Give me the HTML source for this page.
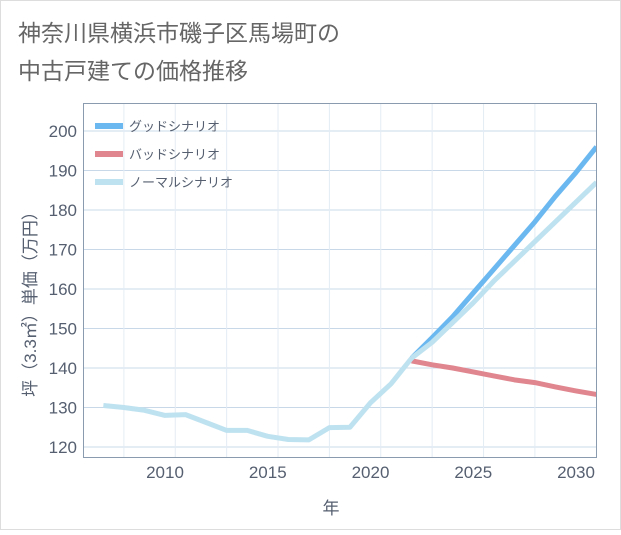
<!DOCTYPE html>
<html><head><meta charset="utf-8"><style>
body{margin:0;background:#fff;}
svg text{font-family:"Liberation Sans","Noto Sans CJK JP",sans-serif;}
</style></head><body>
<svg width="621" height="530" viewBox="0 0 621 530">
<rect x="0.5" y="0.5" width="620" height="529" fill="#fff" stroke="#ddd"/>
<text x="18" y="41" font-size="23" fill="#666">神奈川県横浜市磯子区馬場町の</text>
<text x="18" y="79" font-size="23" fill="#666">中古戸建ての価格推移</text>
<g id="grid"></g>
<rect x="83.5" y="103.5" width="513" height="354" fill="none" stroke="#8a9bb0"/>
<g id="axes"></g>
<g id="lines"></g>
<text transform="translate(36,300) rotate(-90)" text-anchor="middle" font-size="17" fill="#555f70">坪（3.3㎡）単価（万円）</text>
<text x="331" y="514" text-anchor="middle" font-size="17" fill="#555f70">年</text>
<g>
<line x1="95" y1="126" x2="123" y2="126" stroke="#6bb8f0" stroke-width="6"/>
<text x="129" y="131" font-size="13" fill="#555f70">グッドシナリオ</text>
<line x1="95" y1="154" x2="123" y2="154" stroke="#e0868e" stroke-width="6"/>
<text x="129" y="159" font-size="13" fill="#555f70">バッドシナリオ</text>
<line x1="95" y1="182" x2="123" y2="182" stroke="#bfe2f0" stroke-width="6"/>
<text x="129" y="187" font-size="13" fill="#555f70">ノーマルシナリオ</text>
</g>
</svg>
<script>
const histYears=[2007,2008,2009,2010,2011,2012,2013,2014,2015,2016,2017,2018,2019,2020,2021,2022];
const histValues=[130.5,130,129.3,128,128.2,126.2,124.2,124.2,122.7,121.9,121.8,124.9,125,131.2,136,142.5];
const futYears=[2022,2023,2024,2025,2026,2027,2028,2029,2030,2031];
const goodValues=[142.5,147.7,153,159,165,171,177,183.5,189.5,196];
const normalValues=[142.5,146.5,151.5,156.5,162,167,172,177,182,187];
const badValues=[141.8,140.8,140,139,138,137,136.3,135.2,134.2,133.3];
const yTicks=[120,130,140,150,160,170,180,190,200];
const xTicks=[2010,2015,2020,2025,2030];
const NS="http://www.w3.org/2000/svg";
const X=y=>165+(y-2010)*20.55;
const Y=v=>131+(200-v)*3.95;
function mk(tag,attrs,parent){const e=document.createElementNS(NS,tag);for(const k in attrs)e.setAttribute(k,attrs[k]);parent.appendChild(e);return e;}
const grid=document.getElementById('grid'),axes=document.getElementById('axes'),lines=document.getElementById('lines');
for(const t of yTicks){
 const l=mk('line',{x1:84,x2:596,y1:Y(t),y2:Y(t),stroke:'#c9d8e8','stroke-width':1},grid);
 
 
 const tx=mk('text',{x:77,y:Y(t)+6,'text-anchor':'end','font-size':17,fill:'#555f70'},axes);
 tx.textContent=t;
 
 
}
for(let y=2008;y<=2030;y+=2.5){
 const l=mk('line',{x1:X(y),x2:X(y),y1:104,y2:457,stroke:(y%5===0)?'#c9d8e8':'#e3ecf4','stroke-width':1},grid);
 
 
}
for(const t of xTicks){
 const tx=mk('text',{x:X(t),y:478,'text-anchor':'middle','font-size':17,fill:'#555f70'},axes);
 tx.textContent=t;
 
 
}
function series(xs,vs,color,name){
 const p=mk('polyline',{points:xs.map((x,i)=>X(x)+','+Y(vs[i])).join(' '),fill:'none',stroke:color,'stroke-width':5,'stroke-linejoin':'round','clip-path':'url(#clip)'},lines);
 
 
}
const defs=mk('defs',{},lines);const cp=mk('clipPath',{id:'clip'},defs);mk('rect',{x:84,y:104,width:512,height:353},cp);
series(futYears,badValues,'#e0868e','bad-scenario-line');
series(futYears,goodValues,'#6bb8f0','good-scenario-line');
series(futYears,normalValues,'#bfe2f0','normal-scenario-line');
series(histYears,histValues,'#bfe2f0','historical-line');
</script>
</body></html>
